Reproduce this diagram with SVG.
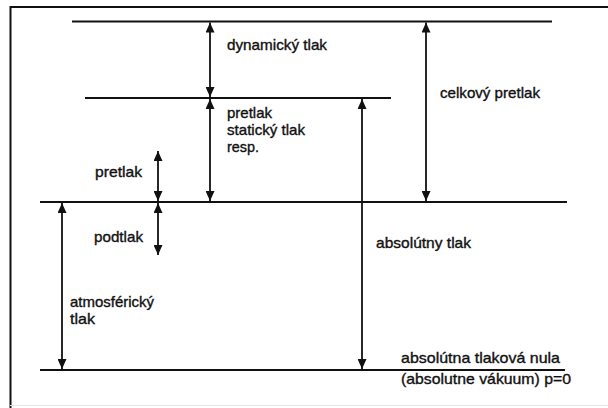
<svg xmlns="http://www.w3.org/2000/svg" width="608" height="408" viewBox="0 0 608 408">
  <style>
    .frame { fill: none; stroke: #111; stroke-width: 2; }
    .level { stroke: #111; stroke-width: 2; fill: none; }
    .arrow { stroke: #111; stroke-width: 1.8; fill: none; marker-start: url(#head); marker-end: url(#head); }
    .lbl { font-family: "Liberation Sans", Arial, sans-serif; font-size: 14.5px; fill: #111; stroke: #111; stroke-width: 0.35; }
  </style>
  <defs>
    <marker id="head" markerUnits="userSpaceOnUse" viewBox="0 0 10 9" refX="10" refY="4.5" markerWidth="10" markerHeight="9" orient="auto-start-reverse">
      <path d="M0,0 L10,4.5 L0,9 z" fill="#111"/>
    </marker>
  </defs>
  <rect width="608" height="408" fill="#fff"/>
  <path class="frame" d="M10.5,420 V7 H620"/>
  <line x1="10" y1="405.5" x2="608" y2="405.5" stroke="#e6e6e6" stroke-width="1"/>

  <g id="level-top">
    <line class="level" x1="72" y1="21.5" x2="552" y2="21.5"/>
  </g>
  <g id="level-static">
    <line class="level" x1="85" y1="98" x2="391" y2="98"/>
  </g>
  <g id="level-atmospheric">
    <line class="level" x1="40" y1="202" x2="567" y2="202"/>
  </g>
  <g id="level-zero">
    <line class="level" x1="40" y1="370" x2="565" y2="370"/>
    <text class="lbl" x="401" y="363" textLength="159" lengthAdjust="spacingAndGlyphs">absolútna tlaková nula</text>
    <text class="lbl" x="401" y="384" textLength="170" lengthAdjust="spacingAndGlyphs">(absolutne vákuum) p=0</text>
  </g>

  <g id="label-dynamicky">
    <text class="lbl" x="227" y="50" textLength="100" lengthAdjust="spacingAndGlyphs">dynamický tlak</text>
  </g>
  <g id="label-celkovy">
    <text class="lbl" x="440" y="98" textLength="100" lengthAdjust="spacingAndGlyphs">celkový pretlak</text>
  </g>
  <g id="label-staticky">
    <text class="lbl" x="227" y="118" textLength="45" lengthAdjust="spacingAndGlyphs">pretlak</text>
    <text class="lbl" x="227" y="135" textLength="78" lengthAdjust="spacingAndGlyphs">statický tlak</text>
    <text class="lbl" x="227" y="152" textLength="32" lengthAdjust="spacingAndGlyphs">resp.</text>
  </g>
  <g id="label-pretlak">
    <text class="lbl" x="95" y="177" textLength="47" lengthAdjust="spacingAndGlyphs">pretlak</text>
  </g>
  <g id="label-podtlak">
    <text class="lbl" x="94" y="242" textLength="49" lengthAdjust="spacingAndGlyphs">podtlak</text>
  </g>
  <g id="label-absolutny">
    <text class="lbl" x="376" y="248" textLength="95" lengthAdjust="spacingAndGlyphs">absolútny tlak</text>
  </g>
  <g id="label-atmosfericky">
    <text class="lbl" x="70" y="307" textLength="84" lengthAdjust="spacingAndGlyphs">atmosférický</text>
    <text class="lbl" x="70" y="324" textLength="25" lengthAdjust="spacingAndGlyphs">tlak</text>
  </g>

  <g id="connectors">
    <line class="arrow" x1="210" y1="22.5" x2="210" y2="97"/>
    <line class="arrow" x1="210" y1="99" x2="210" y2="201"/>
    <line class="arrow" x1="426" y1="22.5" x2="426" y2="201"/>
    <line class="arrow" x1="362" y1="99" x2="362" y2="369"/>
    <line class="arrow" x1="158" y1="151" x2="158" y2="201"/>
    <line class="arrow" x1="158" y1="203" x2="158" y2="255"/>
    <line class="arrow" x1="62" y1="203" x2="62" y2="369"/>
  </g>
</svg>
